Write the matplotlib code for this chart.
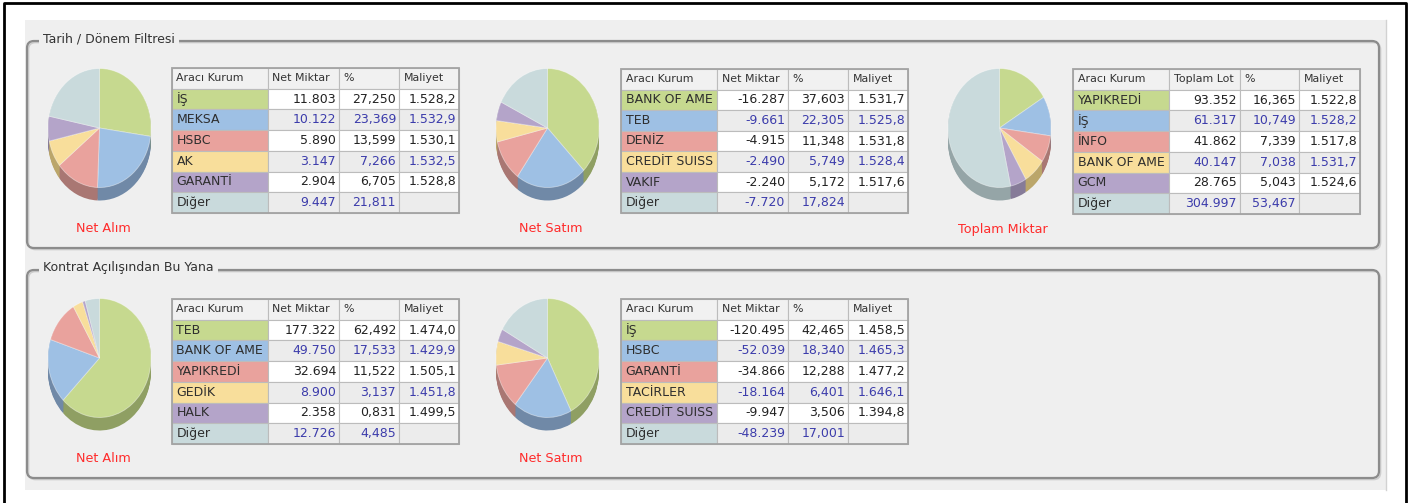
import numpy as np
import matplotlib.pyplot as plt
from matplotlib.patches import FancyBboxPatch, Rectangle

W, H = 1412, 503

# slice / row colours shared by all pies and tables
top_cols = ['#c6d98f', '#9ec0e4', '#e9a29d', '#f8de9b', '#b4a4c9', '#c9dadc']
side_cols = ['#8f9f63', '#7089a7', '#a97773', '#bba66a', '#867b98', '#95a5a7']

# --- Tarih / Dönem Filtresi ---
t1_names = ['İŞ', 'MEKSA', 'HSBC', 'AK', 'GARANTİ', 'Diğer']
t1_lots = [11803, 10122, 5890, 3147, 2904, 9447]
t1_pct = [27.250, 23.369, 13.599, 7.266, 6.705, 21.811]
t1_cost = [1528.2, 1532.9, 1530.1, 1532.5, 1528.8, None]

t2_names = ['BANK OF AME', 'TEB', 'DENİZ', 'CREDİT SUISS', 'VAKIF', 'Diğer']
t2_lots = [-16287, -9661, -4915, -2490, -2240, -7720]
t2_pct = [37.603, 22.305, 11.348, 5.749, 5.172, 17.824]
t2_cost = [1531.7, 1525.8, 1531.8, 1528.4, 1517.6, None]

t3_names = ['YAPIKREDİ', 'İŞ', 'İNFO', 'BANK OF AME', 'GCM', 'Diğer']
t3_lots = [93352, 61317, 41862, 40147, 28765, 304997]
t3_pct = [16.365, 10.749, 7.339, 7.038, 5.043, 53.467]
t3_cost = [1522.8, 1528.2, 1517.8, 1531.7, 1524.6, None]

# --- Kontrat Açılışından Bu Yana ---
t4_names = ['TEB', 'BANK OF AME', 'YAPIKREDİ', 'GEDİK', 'HALK', 'Diğer']
t4_lots = [177322, 49750, 32694, 8900, 2358, 12726]
t4_pct = [62.492, 17.533, 11.522, 3.137, 0.831, 4.485]
t4_cost = [1474.0, 1429.9, 1505.1, 1451.8, 1499.5, None]

t5_names = ['İŞ', 'HSBC', 'GARANTİ', 'TACİRLER', 'CREDİT SUISS', 'Diğer']
t5_lots = [-120495, -52039, -34866, -18164, -9947, -48239]
t5_pct = [42.465, 18.340, 12.288, 6.401, 3.506, 17.001]
t5_cost = [1458.5, 1465.3, 1477.2, 1646.1, 1394.8, None]

hdr_net = ['Aracı Kurum', 'Net Miktar', '%', 'Maliyet']
hdr_tot = ['Aracı Kurum', 'Toplam Lot', '%', 'Maliyet']
sections = ['Tarih / Dönem Filtresi', 'Kontrat Açılışından Bu Yana']

bg = '#efefef'
blue_txt = '#3c3cab'
dark_txt = '#222222'


def fmt_lot(v):
    return f'{v:,}'.replace(',', '.')


def fmt_pct(v):
    return f'{v:.3f}'.replace('.', ',')


def fmt_cost(v):
    if v is None:
        return ''
    return f'{v:,.1f}'.replace(',', 'X').replace('.', ',').replace('X', '.')


def px_box(x0, y0, x1, y1):
    return [x0 / W, 1 - y1 / H, (x1 - x0) / W, (y1 - y0) / H]


fig = plt.figure(figsize=(W / 100, H / 100), dpi=100)
fig.patch.set_facecolor('white')
ax0 = fig.add_axes([0, 0, 1, 1])
ax0.set_xlim(0, W)
ax0.set_ylim(H, 0)
ax0.axis('off')

# page background + borders
ax0.add_patch(Rectangle((25, 20), 1361, 470, fc=bg, ec='none'))
ax0.plot([1386, 1386], [20, 490], color='#d2d2d2', lw=1)
ax0.plot([4, 4, 1406, 1406], [503, 3, 3, 503], color='black', lw=2)

for (top, bot), title in zip([(41, 248), (270, 478)], sections):
    ax0.add_patch(FancyBboxPatch((28.5, top + 1.5), 1352, bot - top,
                                 boxstyle='round,pad=0,rounding_size=7',
                                 fc='none', ec='#cdcdcd', lw=1.2))
    ax0.add_patch(FancyBboxPatch((27, top), 1352, bot - top,
                                 boxstyle='round,pad=0,rounding_size=7',
                                 fc='none', ec='#8c8c8c', lw=1.6))
    ax0.text(43, top - 2, title, fontsize=9, color='#333333', va='center', ha='left',
             bbox=dict(fc=bg, ec='none', pad=3))


def draw_pie(cx, cy, pct, label):
    rx, ry, dep = 51.5, 59.5, 13
    ax = fig.add_axes(px_box(cx - rx - 1, cy - ry - 1, cx + rx + 1, cy + ry + dep + 1))
    d = dep / ry
    for k in np.linspace(d, 0.01, 14):
        ax.pie(pct, colors=side_cols, startangle=90, counterclock=False,
               center=(0, -k), wedgeprops=dict(linewidth=0))
    ax.pie(pct, colors=top_cols, startangle=90, counterclock=False,
           wedgeprops=dict(linewidth=0.6, edgecolor=(1, 1, 1, 0.45)))
    ax.set_aspect('auto')
    ax.set_xlim(-1 - 1 / rx, 1 + 1 / rx)
    ax.set_ylim(-1 - d - 1 / ry, 1 + 1 / ry)
    ax.axis('off')
    ax0.text(cx + 3.5, cy + 101, label, color='#ff2b2b', fontsize=9.2,
             ha='center', va='center')


def draw_table(x0, y0, x1, y1, header, names, lots, pct, cost, widths):
    ax = fig.add_axes(px_box(x0, y0, x1, y1))
    ax.axis('off')
    text = [header] + [[n, fmt_lot(l), fmt_pct(p), fmt_cost(c)]
                       for n, l, p, c in zip(names, lots, pct, cost)]
    colours = [['#f1f1f1'] * 4] + [
        [top_cols[i]] + [('#ffffff' if i % 2 == 0 else '#ececec')] * 3
        for i in range(len(names))]
    w = np.array(widths, dtype=float)
    tb = ax.table(cellText=text, cellColours=colours, colWidths=w / w.sum(),
                  bbox=[0, 0, 1, 1], cellLoc='right')
    tb.auto_set_font_size(False)
    for (r, c), cell in tb.get_celld().items():
        cell.set_edgecolor('#bcbcbc')
        cell.set_linewidth(0.8)
        cell.PAD = 4.5 / widths[c]
        t = cell.get_text()
        if r == 0:
            t.set_fontsize(7.9)
            t.set_color('#333333')
            t.set_ha('left')
        elif c == 0:
            t.set_fontsize(9)
            t.set_color('#2e2e2e')
            t.set_ha('left')
        else:
            cell.PAD = 3 / widths[c]
            t.set_fontsize(9)
            t.set_color(blue_txt if r % 2 == 0 else dark_txt)
            t.set_ha('right')
    ax.add_patch(Rectangle((0, 0), 1, 1, transform=ax.transAxes, fill=False,
                           ec='#a3a3a3', lw=1.3, clip_on=False))


w_std = [96, 71, 60, 60]
w_tot = [96, 71, 59, 61]

draw_pie(99.5, 128, t1_pct, 'Net Alım')
draw_table(172, 68, 459, 213, hdr_net, t1_names, t1_lots, t1_pct, t1_cost, w_std)

draw_pie(547.5, 128, t2_pct, 'Net Satım')
draw_table(621, 69, 908, 213, hdr_net, t2_names, t2_lots, t2_pct, t2_cost, w_std)

draw_pie(999.5, 128, t3_pct, 'Toplam Miktar')
draw_table(1073, 69, 1360, 214, hdr_tot, t3_names, t3_lots, t3_pct, t3_cost, w_tot)

draw_pie(99.5, 358, t4_pct, 'Net Alım')
draw_table(172, 299, 459, 444, hdr_net, t4_names, t4_lots, t4_pct, t4_cost, w_std)

draw_pie(547.5, 358, t5_pct, 'Net Satım')
draw_table(621, 299, 908, 444, hdr_net, t5_names, t5_lots, t5_pct, t5_cost, w_std)

fig.savefig('out.png', dpi=100)
